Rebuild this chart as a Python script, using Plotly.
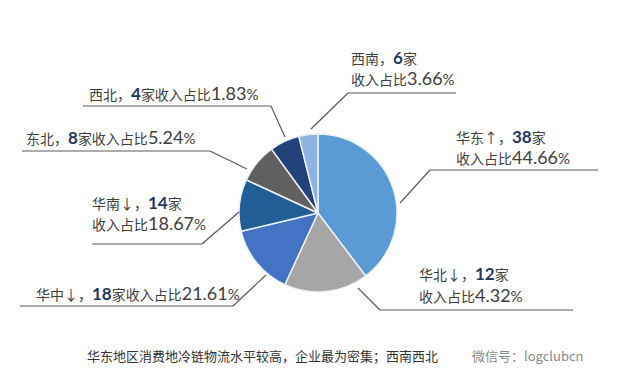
import plotly.graph_objects as go

# ---- data ----
regions = ["华东", "华北", "华中", "华南", "东北", "西北", "西南"]
trend = ["↑", "↓", "↓", "↓", "", "", ""]
counts = [38, 12, 18, 14, 8, 4, 6]
income_share = [44.66, 4.32, 21.61, 18.67, 5.24, 1.83, 3.66]
# slice sizes as drawn in the picture (angular share, %)
slice_share = [39.7, 17.2, 14.4, 10.6, 8.1, 6.1, 3.9]
colors = ["#5B9BD5", "#A6A6A6", "#4472C4", "#225E96", "#606060", "#24427A", "#8DB4E2"]
caption = "华东地区消费地冷链物流水平较高，企业最为密集；西南西北"
watermark = "微信号：logclubcn"

W, H = 640, 389
FONT = "Noto Sans CJK SC, Microsoft YaHei, sans-serif"
DIGIT_FONT = "Lato, Open Sans, sans-serif"
TXT = "#404040"
NUM = "#1F3864"

def px(x):
    return x / W

def py(y):
    return 1 - y / H

cx, cy, r = 318, 213, 79

fig = go.Figure(go.Pie(
    labels=regions,
    values=slice_share,
    sort=False,
    direction="clockwise",
    rotation=0,
    marker=dict(colors=colors, line=dict(color="#EAF1FA", width=1.5)),
    textinfo="none",
    hoverinfo="label",
    showlegend=False,
    domain=dict(x=[px(cx - r), px(cx + r)], y=[py(cy + r), py(cy - r)]),
))

def num(v):
    return f"<span style='color:{NUM};font-size:17px;font-family:{DIGIT_FONT}'><b>{v}</b></span>"

def pct(v):
    return (f"<span style='font-size:18px;font-family:{DIGIT_FONT}'>{v:.2f}</span>"
            f"<span style='font-size:15px;font-family:{DIGIT_FONT}'>%</span>")

def head(i):
    return f"{regions[i]}{trend[i]}，" + num(counts[i]) + "家"

def tail(i):
    return "收入占比" + pct(income_share[i])

# label layout: (index, text x, line centre y's, underline (x0,x1,y), leader end (x,y), leader start x)
label_layout = [
    (6, 350, [57, 78], (348, 456, 93), (311, 129), 348),
    (0, 455, [136, 157], (430, 598, 170), (400, 203), 430),
    (1, 418, [273, 295], (380, 573, 310), (358, 288), 380),
    (2, 35, [293], (20, 233, 306), (266, 275), 233),
    (3, 91, [202, 223], (92, 202, 244), (239, 212), 202),
    (4, 25, [137], (22, 210, 151), (247, 169), 210),
    (5, 88, [93], (83, 271, 106), (285, 137), 271),
]

annotations = []
shapes = []
LINE = dict(color="#5A5A5A", width=1.2)
for i, tx, ys, (ux0, ux1, uy), (lx, ly), lstart in label_layout:
    texts = [head(i), tail(i)] if len(ys) == 2 else [head(i) + tail(i)]
    for t, yy in zip(texts, ys):
        annotations.append(dict(
            x=px(tx), y=py(yy), xref="paper", yref="paper",
            xanchor="left", yanchor="middle", align="left", showarrow=False,
            borderpad=0,
            text=t, font=dict(family=FONT, size=14, color=TXT),
        ))
    shapes.append(dict(type="line", xref="paper", yref="paper",
                       x0=px(ux0), x1=px(ux1), y0=py(uy), y1=py(uy), line=LINE))
    shapes.append(dict(type="line", xref="paper", yref="paper",
                       x0=px(lstart), x1=px(lx), y0=py(uy), y1=py(ly), line=LINE))

annotations.append(dict(
    x=px(85), y=py(355), xref="paper", yref="paper", xanchor="left", yanchor="middle",
    showarrow=False, text=caption, font=dict(family=FONT, size=13, color="#333333"),
))
annotations.append(dict(
    x=px(470), y=py(355), xref="paper", yref="paper", xanchor="left", yanchor="middle",
    showarrow=False, text=watermark, font=dict(family=FONT, size=13, color="#8A8A8A"),
))

fig.update_layout(
    width=W, height=H,
    margin=dict(l=0, r=0, t=0, b=0),
    paper_bgcolor="white", plot_bgcolor="white",
    annotations=annotations, shapes=shapes,
)

fig.write_html("out.html", config={"displayModeBar": False},
               post_script="document.body.style.margin='0';")
